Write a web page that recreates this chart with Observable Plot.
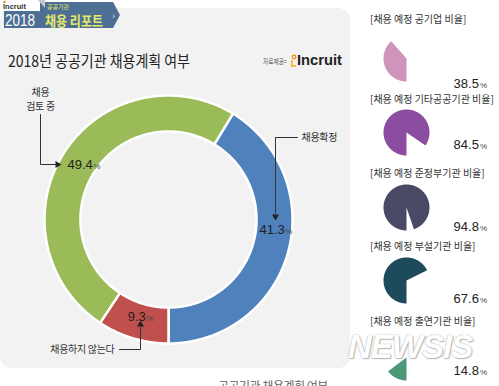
<!DOCTYPE html>
<html><head><meta charset="utf-8">
<script src="https://cdn.jsdelivr.net/npm/d3@7"></script>
<script src="https://cdn.jsdelivr.net/npm/@observablehq/plot@0.6"></script>
<style>
html,body{margin:0;padding:0;background:#fff;}
body{width:499px;height:386px;position:relative;overflow:hidden;font-family:"Noto Sans CJK KR","Noto Sans",sans-serif;}
.abs{position:absolute;}
.plabel{position:absolute;left:370px;font-size:10px;color:#333;letter-spacing:0px;white-space:nowrap;line-height:11px;}
.pval{position:absolute;right:12px;font-size:13px;color:#222;line-height:12px;white-space:nowrap;font-family:"Liberation Sans",sans-serif;}
.pval small{font-size:8px;color:#444;margin-left:1px;}
</style></head><body>
<div class="abs" style="left:0;top:8px;width:350px;height:360px;background:#f2f2f2;border-radius:12px;"></div>
<svg class="abs" style="left:0;top:0" width="130" height="32">
  <polygon points="4,2 113,2 120,15 113,28 4,28" fill="#4e6f94"/>
  <rect x="0" y="0" width="40" height="11" fill="#fff"/>
  <polygon points="38,0 45,0 45,8" fill="#c8c8c8"/>
  <text x="3" y="8.5" font-size="7.5" font-weight="bold" fill="#333" font-family="Liberation Sans">Incruit</text>
  <circle cx="4.5" cy="2" r="1.2" fill="#f08a00"/>
  <text x="5" y="26" font-size="16" fill="#fff" font-family="Liberation Sans" textLength="30" lengthAdjust="spacingAndGlyphs">2018</text>
  <text x="47" y="9" font-size="6" fill="#e2e66a">공공기관</text>
  <text x="45" y="25.5" font-size="14" font-weight="bold" fill="#e6ea6c" textLength="58" lengthAdjust="spacingAndGlyphs">채용 리포트</text>
  <text x="112" y="19" font-size="10" fill="#cfd8e2">›</text>
</svg>
<svg class="abs" style="left:0;top:45px" width="350" height="30">
  <text x="8" y="22" font-size="16" fill="#222" textLength="182" lengthAdjust="spacingAndGlyphs">2018년 공공기관 채용계획 여부</text>
  <text x="263" y="19" font-size="7" fill="#555" textLength="24" lengthAdjust="spacingAndGlyphs">자료제공=</text>
  <circle cx="294" cy="12" r="1.8" fill="none" stroke="#f08a00" stroke-width="1.2"/>
  <path d="M292,15 L292,21 L296,21" fill="none" stroke="#f5b400" stroke-width="1.5"/>
  <text x="297" y="20" font-size="14" font-weight="bold" fill="#222" font-family="Liberation Sans" textLength="45" lengthAdjust="spacingAndGlyphs">Incruit</text>
</svg>
<div id="donut" class="abs" style="left:0;top:70px"></div>
<div id="right"></div>
<div class="abs" style="left:218px;top:379px;font-size:12px;line-height:14px;color:#666;letter-spacing:-0.5px;">공공기관 채용계획 여부</div>
<div class="abs" style="left:348px;top:334px;font:italic bold 33px/26px 'Liberation Sans',sans-serif;color:#fff;text-shadow:0 0 1.5px #999,1px 1px 1px #bbb;letter-spacing:-1px;">NEWSIS</div>
<script>
// ---- data ----
const categories = ["채용확정", "채용하지 않는다", "채용 검토 중"];
const shares = [41.3, 9.3, 49.4];
const sliceColors = ["#4f81bd", "#c0504d", "#9bbb59"];

const pieLabels = ["[채용 예정 공기업 비율]", "[채용 예정 기타공공기관 비율]", "[채용 예정 준정부기관 비율]", "[채용 예정 부설기관 비율]", "[채용 예정 출연기관 비율]"];
const pieValues = [38.5, 84.5, 94.8, 67.6, 14.8];
const pieColors = ["#cf94b9", "#8c4c9f", "#4b4a66", "#1e4b5b", "#4a9878"];

// ---- layout ----
const CX = 168, CY = 219, K = 124, W = 350, H = 300, TOP = 70;
const RO = 1, RI = 0.71;
const toU = (px, py) => ({x: (px - CX) / K, y: (CY - py) / K});
const rad = d => d * Math.PI / 180;

// donut ring polygons
const ring = [];
const valueLabels = [];
let a = 180 - shares[0] * 3.6;
const labelShift = [-10, 0, 0];
shares.forEach((v, i) => {
  const a0 = a, a1 = a + v * 3.6; a = a1;
  const n = Math.max(2, Math.ceil((a1 - a0) / 0.5));
  const outer = [], inner = [];
  for (let k = 0; k <= n; k++) {
    const t = rad(a0 + (a1 - a0) * k / n);
    outer.push({cat: categories[i], x: RO * Math.sin(t), y: RO * Math.cos(t)});
    inner.push({cat: categories[i], x: RI * Math.sin(t), y: RI * Math.cos(t)});
  }
  ring.push(...outer, ...inner.reverse());
  const m = rad((a0 + a1) / 2 + labelShift[i]);
  const rl = i === 0 ? 0.86 : 0.82;
  const txt = v.toFixed(1);
  const numW = txt.length * 7.2 - 3.5;
  const shift = (numW / 2 - 2.5) / K;
  valueLabels.push({text: txt, x: rl * Math.sin(m) + shift, y: rl * Math.cos(m)});
});

// annotations (page px -> units)
const annotPaths = [
  {id: "a", pts: [[40, 114], [40, 164], [55, 164]]},
  {id: "b", pts: [[297, 137], [275, 137], [275, 213]]},
  {id: "c", pts: [[119, 349], [140, 349], [140, 327]]}
];
const annotLines = annotPaths.flatMap(p => p.pts.map(([px, py]) => ({id: p.id, ...toU(px, py)})));
const heads = [
  {...toU(57, 164), rot: 90},
  {...toU(275, 216), rot: 180},
  {...toU(140, 324), rot: 0}
];
const annotTexts = [
  {...toU(40, 92), text: "채용", anchor: "middle"},
  {...toU(40, 106.5), text: "검토 중", anchor: "middle"},
  {...toU(301, 137), text: categories[0], anchor: "start"},
  {...toU(114, 349), text: categories[1], anchor: "end"}
];

const donut = Plot.plot({
  width: W, height: H, margin: 0,
  x: {domain: [-CX / K, (W - CX) / K], axis: null},
  y: {domain: [-(TOP + H - CY) / K, (CY - TOP) / K], axis: null},
  color: {domain: categories, range: sliceColors},
  style: {background: "transparent", overflow: "visible", fontFamily: "'Noto Sans CJK KR', sans-serif"},
  marks: [
    Plot.line(ring, {x: "x", y: "y", z: "cat", fill: "cat", stroke: "white", strokeWidth: 2.5, curve: "linear-closed"}),
    Plot.text(valueLabels, {x: "x", y: "y", text: "text", textAnchor: "end", fontSize: 13, fill: "#1e1e1e", fontFamily: "Liberation Sans"}),
    Plot.text(valueLabels, {x: "x", y: "y", text: () => "%", textAnchor: "start", dx: 0.5, dy: 1.5, fontSize: 8, fill: "#444", fontFamily: "Liberation Sans"}),
    Plot.line(annotLines, {x: "x", y: "y", z: "id", stroke: "#333", strokeWidth: 1}),
    Plot.dot(heads, {x: "x", y: "y", rotate: "rot", symbol: "triangle", r: 2.6, fill: "#222", stroke: "none"}),
    Plot.text(annotTexts, {x: "x", y: "y", text: "text", fontSize: 10, fill: "#333"})
  ]
});
document.getElementById("donut").append(donut);
donut.querySelectorAll("g[aria-label='text']").forEach(g => {
  const ts = g.querySelectorAll("text");
  if (ts.length === annotTexts.length) ts.forEach((t, i) => { t.setAttribute("text-anchor", annotTexts[i].anchor); t.style.letterSpacing = "-0.3px"; });
});

// right column pies
const pieCY = [58, 132, 207, 280, 357];
const labelCY = [18, 98, 172, 245, 320];
const valCY = [84, 145, 227, 299, 371];
const PX = 406, PR = 23, PS = 52;
const right = document.getElementById("right");
pieValues.forEach((v, i) => {
  const a0 = 180, a1 = 180 + v * 3.6;
  const n = Math.max(2, Math.ceil((a1 - a0) / 0.5));
  const pts = [{x: 0, y: 0}];
  for (let k = 0; k <= n; k++) {
    const t = rad(a0 + (a1 - a0) * k / n);
    pts.push({x: Math.sin(t), y: Math.cos(t)});
  }
  const lim = (PS / 2) / PR;
  const p = Plot.plot({
    width: PS, height: PS, margin: 0,
    x: {domain: [-lim, lim], axis: null},
    y: {domain: [-lim, lim], axis: null},
    style: {background: "transparent", overflow: "visible"},
    marks: [Plot.line(pts, {x: "x", y: "y", fill: pieColors[i], stroke: "none", curve: "linear-closed"})]
  });
  const d = document.createElement("div");
  d.className = "abs";
  d.style.left = (PX - PS / 2) + "px";
  d.style.top = (pieCY[i] - PS / 2) + "px";
  d.append(p);
  right.append(d);
  const lab = document.createElement("div");
  lab.className = "plabel";
  lab.style.top = (labelCY[i] - 5.5) + "px";
  lab.textContent = pieLabels[i];
  right.append(lab);
  const val = document.createElement("div");
  val.className = "pval";
  val.style.top = (valCY[i] - 6) + "px";
  val.innerHTML = v.toFixed(1) + "<small>%</small>";
  right.append(val);
});
</script>
</body></html>
